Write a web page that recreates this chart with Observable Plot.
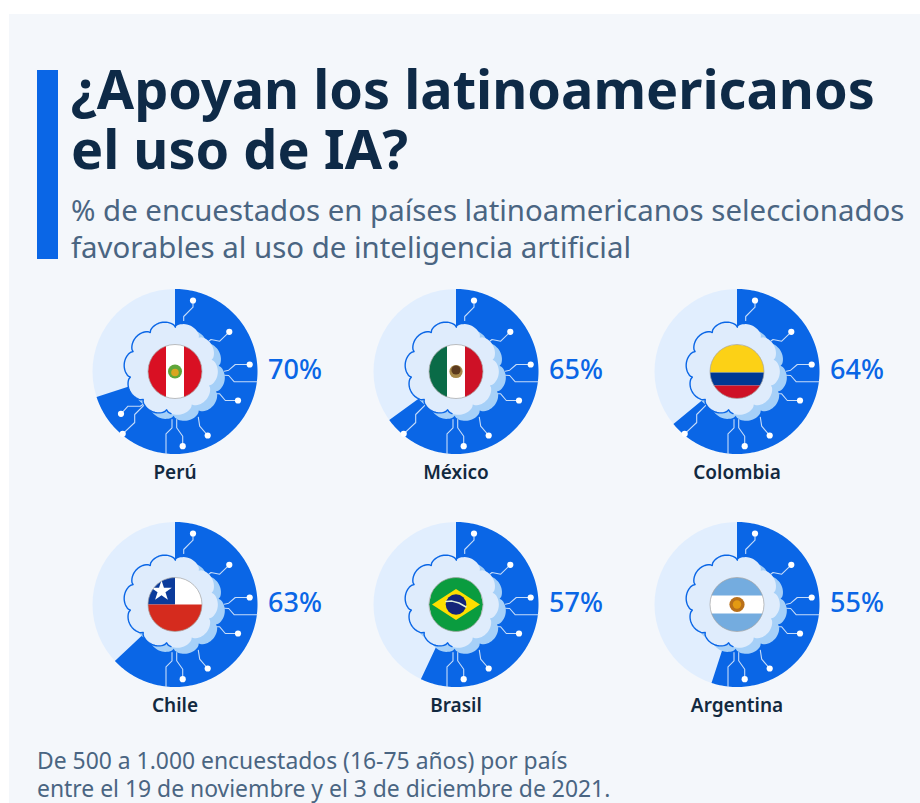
<!DOCTYPE html>
<html lang="es">
<head>
<meta charset="utf-8">
<script src="https://cdn.jsdelivr.net/npm/d3@7"></script>
<script src="https://cdn.jsdelivr.net/npm/@observablehq/plot@0.6"></script>
<style>
html,body{margin:0;padding:0;width:920px;height:803px;overflow:hidden;background:#fff;font-family:"Noto Sans",sans-serif}
#panel{position:absolute;left:9px;top:14px;width:911px;height:789px;background:#f4f7fb}
#bar{position:absolute;left:37px;top:70px;width:21px;height:189px;background:#0a66e6}
h1{position:absolute;left:71px;top:58px;margin:0;font-size:54px;line-height:60px;font-weight:700;color:#0e2a47;white-space:nowrap}
#sub{position:absolute;left:71px;top:192px;margin:0;font-size:29.4px;line-height:37px;color:#4a6582;white-space:nowrap}
#chart{position:absolute;left:0;top:276px}
#foot{position:absolute;left:37px;top:747px;margin:0;font-size:22.9px;line-height:28px;color:#4a6582;white-space:nowrap}
</style>
</head>
<body>
<div id="panel"></div>
<div id="bar"></div>
<h1>¿Apoyan los latinoamericanos<br>el uso de IA?</h1>
<p id="sub">% de encuestados en países latinoamericanos seleccionados<br>favorables al uso de inteligencia artificial</p>
<div id="chart"></div>
<p id="foot">De 500 a 1.000 encuestados (16-75 años) por país<br>entre el 19 de noviembre y el 3 de diciembre de 2021.</p>
<script>
const countries = ["Perú","México","Colombia","Chile","Brasil","Argentina"];
const values = [70,65,64,63,57,55];
const BLUE = "#0a66e6", LIGHT = "#e1eefe", CLOUD = "#dfecfc", CLOUDBACK = "#a6d0f8", WIRE = "#c6dcf9", INK = "#12293f";
const R = 82.5, FR = 27;

const base = countries.map((country,i)=>({country, value:values[i], col:i%3, row:Math.floor(i/3), x:0, y:0}));
const polar = (deg,r,cx=0,cy=0)=>{const t=deg*Math.PI/180;return [cx+r*Math.sin(t), cy-r*Math.cos(t)];};

// Pie wedge: runs clockwise from 12 o'clock, driven by the value
const wedgeRows = base.flatMap(d=>{
  const end=d.value*3.6, pts=[[0,0]];
  for(let a=0;a<end;a+=1.5) pts.push(polar(a,R));
  pts.push(polar(end,R));
  return pts.map(([x,y])=>({...d,x,y}));
});

// Circuit traces, relative to the centre of each pie
const traces = [
  {pts:[[8.7,-51],[8.7,-55],[18,-64.3],[18,-71]],dot:true,min:0},
  {pts:[[33.7,-30.3],[36,-32],[44.7,-30.3],[54.3,-39.7]],dot:true,min:0},
  {pts:[[49.3,-.3],[53.7,-1.3],[60.3,-7],[74.7,-7]],dot:true,min:0},
  {pts:[[49.3,3.7],[53.7,4],[59.3,10.3],[82,10.3]],dot:false,min:0},
  {pts:[[39.7,22.3],[44.7,22.3],[50.3,29],[63,29]],dot:true,min:0},
  {pts:[[23.3,45.7],[24.7,54.7],[32.7,64]],dot:true,min:0},
  {pts:[[1.7,48],[1.7,56.3],[7.7,64.7],[7.7,74.7]],dot:true,min:0},
  {pts:[[-3,48],[-3,56.3],[-9,62.3],[-9,82.3]],dot:false,min:0},
  {pts:[[-29.7,32.3],[-40.3,43],[-40.3,51],[-52.3,62.3]],dot:true,min:64},
  {pts:[[-29.7,31.3],[-34.7,34.7],[-47,34.7],[-54,42.3]],dot:true,min:70}
];
const traceRows = base.flatMap(d=>traces.filter(t=>d.value>=t.min).flatMap((t,k)=>t.pts.map(([x,y])=>({...d,x,y,id:d.country+k}))));
const traceEnds = base.flatMap(d=>traces.filter(t=>t.dot&&d.value>=t.min).map(t=>{const [x,y]=t.pts[t.pts.length-1];return {...d,x,y};}));

// Scalloped cloud outline
const cloudPts=(cx,cy,from,to)=>{
  const pts=[];
  for(let a=from;a<=to;a+=2){
    const r=41.5+5.5*Math.pow(Math.abs(Math.sin((a-6)*5*Math.PI/180)),.6);
    pts.push(polar(a,r,cx,cy));
  }
  return pts;
};
const rowsOf=(pts,extra={})=>base.flatMap(d=>pts.map(([x,y])=>({...d,x,y,...extra})));

// Flags
const stripeV=(a,b)=>{const p=[];const n=24;
  for(let i=0;i<=n;i++){const x=a+(b-a)*i/n;p.push([x,-Math.sqrt(Math.max(0,FR*FR-x*x))]);}
  for(let i=n;i>=0;i--){const x=a+(b-a)*i/n;p.push([x,Math.sqrt(Math.max(0,FR*FR-x*x))]);}
  return p;};
const stripeH=(a,b)=>stripeV(a,b).map(([u,v])=>[v,u]);
const canton=()=>{const p=[[0,0]];for(let a=270;a<=360;a+=5)p.push(polar(a,FR));return p;};
const diamond=[[-24,0],[0,-15.5],[24,0],[0,15.5]];
const flagParts={
  "Perú":[["#d91023",stripeV(-FR,-9)],["#d91023",stripeV(9,FR)]],
  "México":[["#0a6b47",stripeV(-FR,-9)],["#ce1126",stripeV(9,FR)]],
  "Colombia":[["#fcd116",stripeH(-FR,1)],["#003893",stripeH(1,14)],["#ce1126",stripeH(14,FR)]],
  "Chile":[["#0b3b9b",canton()],["#d52b1e",stripeH(0,FR)]],
  "Brasil":[["#0a9c3f",stripeV(-FR,FR)],["#fedf00",diamond]],
  "Argentina":[["#74acdf",stripeH(-FR,-9)],["#74acdf",stripeH(9,FR)]]
};
const flagRows=base.flatMap(d=>flagParts[d.country].flatMap(([fill,pts],k)=>pts.map(([x,y])=>({...d,x,y,fill,id:d.country+k}))));
const emblems=[
  ["Perú",0,0,7,"#5fa63a"],["Perú",0,1,3.8,"#d9a520"],
  ["México",0,0,6.6,"#a88a4a"],["México",0,-1.5,4.6,"#5b3a1e"],
  ["Brasil",0,0,10.3,"#14257a"],
  ["Argentina",0,0,7.6,"#b9701a"],["Argentina",0,0,4.2,"#e39a12"]
].map(([c,x,y,r,fill])=>({...base.find(d=>d.country===c),x,y,r,fill}));
const chileStar=base.filter(d=>d.country==="Chile").map(d=>({...d,x:-13.5,y:-13.5}));
const globeBand=base.filter(d=>d.country==="Brasil").flatMap(d=>[[-10,-3],[-4,-3.4],[3,-1.5],[10,2.5]].map(([x,y])=>({...d,x,y})));

const common={fx:"col",fy:"row",x:"x",y:"y"};
const lineOpts={...common,curve:"linear"};

const plot=Plot.plot({
  width:920,height:453,
  marginLeft:34,marginRight:43,marginTop:0,marginBottom:30,
  style:{background:"transparent",overflow:"visible"},
  x:{domain:[-140.5,140.5],axis:null},
  y:{domain:[95,-95],axis:null},
  fx:{domain:[0,1,2],padding:0,round:false,axis:null},
  fy:{domain:[0,1],paddingInner:43/233,paddingOuter:0,round:false,axis:null},
  color:{type:"identity"},
  r:{type:"identity"},
  marks:[
    Plot.dot(base,{...common,r:R,fill:LIGHT,stroke:"none"}),
    Plot.line(wedgeRows,{...lineOpts,z:"country",fill:BLUE,stroke:"none"}),
    Plot.line(traceRows,{...lineOpts,z:"id",stroke:WIRE,strokeWidth:1.1}),
    Plot.dot(traceEnds,{...common,r:3.1,fill:"#fff",stroke:"none"}),
    Plot.line(rowsOf(cloudPts(3,3,0,360)),{...lineOpts,z:"country",fill:CLOUDBACK,stroke:"none"}),
    Plot.line(rowsOf(cloudPts(-4,-3,0,360)),{...lineOpts,z:"country",fill:CLOUD,stroke:"none"}),
    Plot.line(rowsOf(cloudPts(-4,-3,180,366)),{...lineOpts,z:"country",stroke:BLUE,strokeWidth:1.4}),
    Plot.dot(base,{...common,r:FR,fill:"#fff",stroke:"none"}),
    Plot.line(flagRows,{...lineOpts,z:"id",fill:"fill",stroke:"none"}),
    Plot.dot(emblems,{...common,r:"r",fill:"fill",stroke:"none"}),
    Plot.line(globeBand,{...lineOpts,z:"country",stroke:"#dfeedd",strokeWidth:1.5}),
    Plot.dot(chileStar,{...common,symbol:"star",r:6.5,fill:"#fff",stroke:"none"}),
    Plot.dot(base,{...common,r:FR,fill:"none",stroke:"#a3a3a3",strokeWidth:.7}),
    Plot.text(base,{fx:"col",fy:"row",x:()=>93,y:()=>-1.5,text:d=>d.value+"%",textAnchor:"start",
      fontSize:27,fontWeight:500,fill:BLUE,fontFamily:"Noto Sans"}),
    Plot.text(base,{fx:"col",fy:"row",x:()=>0,y:()=>101.5,text:"country",textAnchor:"middle",
      fontSize:19,fontWeight:600,fill:INK,fontFamily:"Noto Sans"})
  ]
});
document.getElementById("chart").appendChild(plot);
</script>
</body>
</html>
